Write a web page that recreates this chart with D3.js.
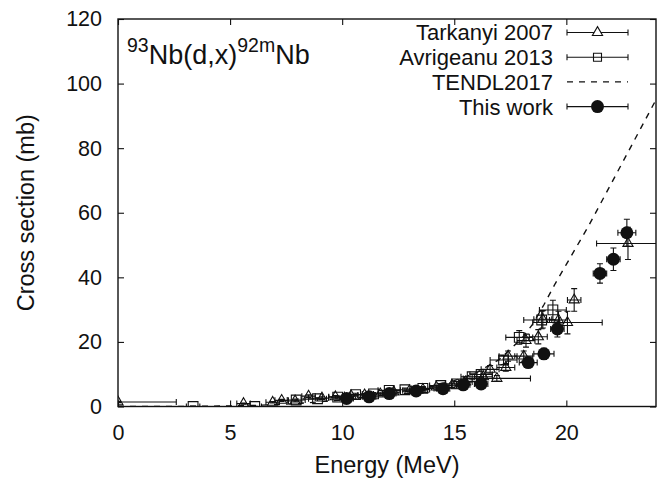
<!DOCTYPE html>
<html><head><meta charset="utf-8">
<script src="https://cdn.jsdelivr.net/npm/d3@7"></script>
<style>
html,body{margin:0;padding:0;background:#fff;}
svg{display:block;font-family:"Liberation Sans",Arial,Helvetica,sans-serif;}
</style></head>
<body>
<svg id="chart" width="662" height="480"></svg>
<script>
// ---- data: [energy MeV, cross section mb, dE, dXS] ----
const tarkanyi2007 = [
  [0.0, 1.4, 2.6, 0.2], [5.6, 0.9, 0.3, 0.2], [6.9, 1.3, 0.3, 0.2], [7.3, 1.9, 0.3, 0.3],
  [7.9, 1.7, 0.3, 0.3], [8.5, 3.2, 0.3, 0.4], [9.1, 2.6, 0.3, 0.4], [9.7, 3.0, 0.3, 0.4],
  [10.4, 3.3, 0.3, 0.4], [11.0, 3.6, 0.3, 0.4], [11.7, 3.9, 0.3, 0.5], [12.3, 4.5, 0.3, 0.5],
  [13.0, 4.9, 0.3, 0.5], [13.6, 5.3, 0.3, 0.6], [14.2, 6.0, 0.3, 0.6], [14.9, 6.6, 0.3, 0.7],
  [15.5, 7.6, 0.3, 0.8], [16.3, 9.2, 0.4, 0.9], [16.6, 11.5, 0.4, 1.2], [16.9, 8.7, 1.5, 0.9],
  [17.3, 12.1, 0.4, 1.2], [17.4, 15.6, 0.4, 1.6], [18.1, 15.6, 0.4, 1.6], [18.2, 20.4, 0.4, 2.0],
  [18.75, 21.6, 0.4, 2.2], [18.95, 27.0, 0.4, 2.7], [19.65, 26.8, 0.4, 2.7], [20.05, 26.0, 1.55, 3.5],
  [20.35, 33.0, 0.3, 3.5], [22.75, 50.5, 1.4, 5.0]
];
const avrigeanu2013 = [
  [3.35, 0.0, 0.3, 0.1], [6.1, 0.0, 0.3, 0.1], [7.95, 2.0, 0.4, 0.3], [8.9, 2.4, 0.4, 0.3],
  [9.8, 2.9, 0.4, 0.3], [10.6, 3.7, 0.5, 0.4], [11.4, 3.9, 0.5, 0.4], [12.1, 5.0, 0.5, 0.5],
  [12.8, 5.2, 0.5, 0.5], [13.6, 5.6, 0.5, 0.6], [14.4, 6.5, 0.5, 0.6], [15.1, 7.0, 0.5, 0.7],
  [15.8, 9.2, 0.5, 0.9], [16.2, 9.9, 0.5, 1.0], [17.2, 14.4, 0.6, 1.4], [17.9, 21.4, 0.6, 2.1],
  [18.9, 26.8, 0.8, 2.7], [19.4, 29.9, 0.6, 3.0]
];
const thisWork = [
  [10.2, 2.5, 0.3, 0.3], [11.2, 3.0, 0.3, 0.4], [12.1, 4.0, 0.3, 0.4], [13.3, 4.8, 0.3, 0.5],
  [14.5, 5.5, 0.3, 0.6], [15.4, 6.7, 0.3, 0.7], [16.2, 7.0, 0.3, 0.8], [18.3, 13.6, 0.4, 1.4],
  [19.0, 16.3, 0.45, 1.7], [19.6, 24.0, 0.3, 2.5], [21.5, 41.2, 0.3, 3.0], [22.1, 45.6, 0.3, 3.5],
  [22.7, 53.8, 0.4, 4.2]
];
const tendlE  = [0, 2, 4, 6, 8, 10, 11, 12, 13, 14, 15, 16, 17, 18, 18.5, 19, 19.5, 20, 21, 22, 23, 24];
const tendlXS = [0, 0, 0.1, 0.3, 0.9, 2.0, 2.8, 3.7, 4.8, 6.2, 8.0, 10.5, 14.5, 21, 25.5, 31.5, 38, 44, 56, 69, 82, 95];
const xTicks = [0, 5, 10, 15, 20];
const yTicks = [0, 20, 40, 60, 80, 100, 120];
const legendLabels = ["Tarkanyi 2007", "Avrigeanu 2013", "TENDL2017", "This work"];

// ---- layout ----
const svg = d3.select("#chart");
const L = 118, R = 656, T = 19, B = 406.5;
const x = d3.scaleLinear().domain([0, 24]).range([L, R]);
const y = d3.scaleLinear().domain([0, 120]).range([B, T]);

svg.append("defs").append("clipPath").attr("id", "clip")
  .append("rect").attr("x", L).attr("y", T).attr("width", R - L).attr("height", B - T);

const plot = svg.append("g").attr("clip-path", "url(#clip)");

// TENDL dashed line
plot.append("path")
  .datum(tendlE.map((e, i) => [e, tendlXS[i]]))
  .attr("d", d3.line().x(d => x(d[0])).y(d => y(d[1])))
  .attr("fill", "none").attr("stroke", "#111").attr("stroke-width", 1.4)
  .attr("stroke-dasharray", "6,6");

const cap = 3;
function errorBars(g, data) {
  const eg = g.append("g").attr("stroke", "#111").attr("stroke-width", 1.1).attr("fill", "none");
  data.forEach(d => {
    const cx = x(d[0]), cy = y(d[1]);
    const x0 = x(d[0] - d[2]), x1 = x(d[0] + d[2]);
    const y0 = y(d[1] - d[3]), y1 = y(d[1] + d[3]);
    eg.append("line").attr("x1", x0).attr("x2", x1).attr("y1", cy).attr("y2", cy);
    eg.append("line").attr("x1", x0).attr("x2", x0).attr("y1", cy - cap).attr("y2", cy + cap);
    eg.append("line").attr("x1", x1).attr("x2", x1).attr("y1", cy - cap).attr("y2", cy + cap);
    eg.append("line").attr("x1", cx).attr("x2", cx).attr("y1", y0).attr("y2", y1);
    eg.append("line").attr("x1", cx - cap).attr("x2", cx + cap).attr("y1", y0).attr("y2", y0);
    eg.append("line").attr("x1", cx - cap).attr("x2", cx + cap).attr("y1", y1).attr("y2", y1);
  });
}
const triSym = d3.symbol().type(d3.symbolTriangle).size(45);
const sqSym = d3.symbol().type(d3.symbolSquare).size(95);

errorBars(plot, tarkanyi2007);
plot.append("g").selectAll("path").data(tarkanyi2007).join("path")
  .attr("d", triSym).attr("transform", d => `translate(${x(d[0])},${y(d[1])})`)
  .attr("fill", "none").attr("stroke", "#111").attr("stroke-width", 1.1);

errorBars(plot, avrigeanu2013);
plot.append("g").selectAll("path").data(avrigeanu2013).join("path")
  .attr("d", sqSym).attr("transform", d => `translate(${x(d[0])},${y(d[1])})`)
  .attr("fill", "none").attr("stroke", "#111").attr("stroke-width", 1.1);

errorBars(plot, thisWork);
plot.append("g").selectAll("circle").data(thisWork).join("circle")
  .attr("cx", d => x(d[0])).attr("cy", d => y(d[1])).attr("r", 6.5)
  .attr("fill", "#111");

// ---- axes ----
const tickFont = 21.5;
svg.append("g").attr("transform", `translate(0,${B})`)
  .call(d3.axisBottom(x).tickValues(xTicks).tickSize(-6).tickPadding(18).tickFormat(d3.format("d")));
svg.append("g").attr("transform", `translate(0,${T})`)
  .call(d3.axisTop(x).tickValues(xTicks).tickSize(-6).tickFormat(""));
svg.append("g").attr("transform", `translate(${L},0)`)
  .call(d3.axisLeft(y).tickValues(yTicks).tickSize(-6).tickPadding(16).tickFormat(d3.format("d")));
svg.append("g").attr("transform", `translate(${R},0)`)
  .call(d3.axisRight(y).tickValues(yTicks).tickSize(-6).tickFormat(""));
svg.selectAll(".domain").remove();
svg.selectAll(".tick line").attr("stroke", "#111").attr("stroke-width", 1.1);
svg.selectAll(".tick text").attr("font-size", tickFont).attr("fill", "#111")
  .attr("font-family", "Liberation Sans, Arial, sans-serif");

// frame
svg.append("rect").attr("x", L).attr("y", T).attr("width", R - L).attr("height", B - T)
  .attr("fill", "none").attr("stroke", "#111").attr("stroke-width", 1.4);

// axis titles
svg.append("text").attr("x", (L + R) / 2).attr("y", 473).attr("text-anchor", "middle")
  .attr("font-size", 23.5).attr("fill", "#111").text("Energy (MeV)");
svg.append("text").attr("transform", `translate(34,${(T + B) / 2}) rotate(-90)`)
  .attr("text-anchor", "middle").attr("font-size", 23.5).attr("fill", "#111")
  .text("Cross section (mb)");

// reaction label
const lab = svg.append("text").attr("x", 127).attr("y", 64).attr("fill", "#111").attr("font-size", 27);
lab.append("tspan").attr("font-size", 19.5).attr("dy", -12).text("93");
lab.append("tspan").attr("dy", 12).text("Nb(d,x)");
lab.append("tspan").attr("font-size", 19.5).attr("dy", -12).text("92m");
lab.append("tspan").attr("dy", 12).text("Nb");

// ---- legend ----
const rowY = [32.5, 57.2, 81.9, 106.6];
const lx0 = 567, lx1 = 628, lm = 597.5;
const lg = svg.append("g");
legendLabels.forEach((t, i) => {
  const yy = rowY[i];
  lg.append("text").attr("x", 553).attr("y", yy).attr("dy", "0.36em")
    .attr("text-anchor", "end").attr("font-size", 22).attr("fill", "#111").text(t);
  if (i === 2) {
    lg.append("line").attr("x1", lx0).attr("x2", lx1).attr("y1", yy).attr("y2", yy)
      .attr("stroke", "#111").attr("stroke-width", 1.4).attr("stroke-dasharray", "6,6");
    return;
  }
  lg.append("line").attr("x1", lx0).attr("x2", lx1).attr("y1", yy).attr("y2", yy).attr("stroke", "#111").attr("stroke-width", 1.1);
  lg.append("line").attr("x1", lx0).attr("x2", lx0).attr("y1", yy - cap).attr("y2", yy + cap).attr("stroke", "#111").attr("stroke-width", 1.1);
  lg.append("line").attr("x1", lx1).attr("x2", lx1).attr("y1", yy - cap).attr("y2", yy + cap).attr("stroke", "#111").attr("stroke-width", 1.1);
  if (i === 0) {
    lg.append("path").attr("d", triSym()).attr("transform", `translate(${lm},${yy})`)
      .attr("fill", "#fff").attr("stroke", "#111").attr("stroke-width", 1.1);
  } else if (i === 1) {
    lg.append("path").attr("d", d3.symbol().type(d3.symbolSquare).size(64)()).attr("transform", `translate(${lm},${yy})`)
      .attr("fill", "none").attr("stroke", "#111").attr("stroke-width", 1.1);
  } else {
    lg.append("circle").attr("cx", lm).attr("cy", yy).attr("r", 6.5).attr("fill", "#111");
  }
});
</script>
</body></html>
